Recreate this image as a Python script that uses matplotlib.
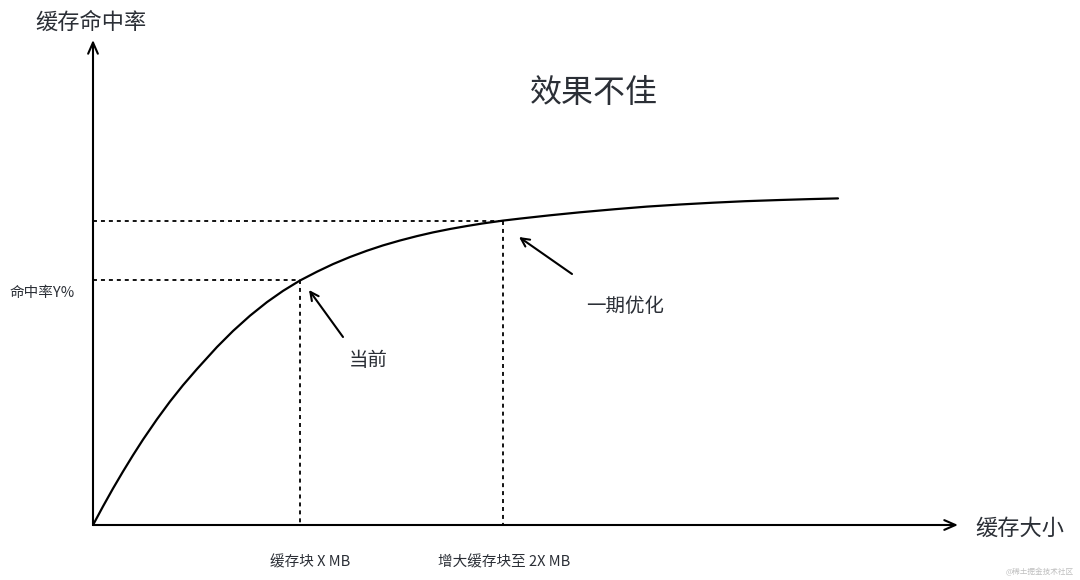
import matplotlib
matplotlib.use("Agg")
import matplotlib.pyplot as plt

plt.rcParams['font.family'] = ['Noto Sans CJK SC', 'DejaVu Sans']

# Curve (cache size -> hit rate), read in the picture's pixel frame
curve_x = [93, 103, 113, 123, 133, 143, 157, 170, 183, 197, 217, 233,
           250, 267, 283, 300, 317, 333, 350, 367, 383, 400, 417, 433, 450,
           467, 483, 503, 520, 550, 580, 615, 647, 680, 713, 745, 780, 810, 838]
curve_y = [525, 506.4, 488.5, 471.5, 455.2, 439.6, 419.2, 401.5, 385.2, 369,
           347, 331, 315.7, 302.1, 290.9, 280.5, 271.7, 264.1, 257, 250.7,
           245.4, 240.5, 236.1, 232.4, 229, 226, 223.4, 220.6, 218.6, 215.3,
           212.3, 209.2, 206.6, 204.5, 202.7, 201.2, 200, 199.1, 198.4]

origin = (93, 525)
x_axis_end = 958
y_axis_end = 40

current_pt = (300, 280)
optim_pt = (503, 221)

y_title = "缓存命中率"
x_title = "缓存大小"
chart_title = "效果不佳"
y_tick = "命中率Y%"
x_ticks = ["缓存块 X MB", "增大缓存块至 2X MB"]
x_tick_pos = [310, 504]
ann_labels = ["当前", "一期优化"]
watermark = "@稀土掘金技术社区"

fig = plt.figure(figsize=(10.8, 5.8), dpi=100)
ax = fig.add_axes([0, 0, 1, 1])
ax.set_xlim(0, 1080)
ax.set_ylim(580, 0)
ax.axis('off')

txt = '#2b2f36'
lw = 1.5

# axes with arrows
ax.annotate('', xy=(origin[0], y_axis_end), xytext=origin,
            arrowprops=dict(arrowstyle='->,head_length=0.8,head_width=0.35', lw=lw, color='black', shrinkA=0, shrinkB=0))
ax.annotate('', xy=(x_axis_end, origin[1]), xytext=origin,
            arrowprops=dict(arrowstyle='->,head_length=0.8,head_width=0.35', lw=lw, color='black', shrinkA=0, shrinkB=0))

# curve
ax.plot(curve_x, curve_y, color='black', lw=1.6, solid_capstyle='round', solid_joinstyle='round')

# dashed guides
ds = (0, (2.2, 2.2))
for (px, py) in [current_pt, optim_pt]:
    ax.plot([origin[0], px], [py, py], color='black', lw=1.3, linestyle=ds)
    ax.plot([px, px], [py, origin[1]], color='black', lw=1.3, linestyle=ds)

# annotation arrows
ax.annotate('', xy=(309, 290), xytext=(343, 337),
            arrowprops=dict(arrowstyle='->,head_length=0.6,head_width=0.3', lw=1.5, color='black', shrinkA=0, shrinkB=0))
ax.annotate('', xy=(519, 237), xytext=(572, 274),
            arrowprops=dict(arrowstyle='->,head_length=0.6,head_width=0.3', lw=1.5, color='black', shrinkA=0, shrinkB=0))

# texts
ax.text(91, 22, y_title, fontsize=16, color=txt, ha='center', va='center')
ax.text(1020, 528, x_title, fontsize=16, color=txt, ha='center', va='center')
ax.text(594, 93, chart_title, fontsize=23, color=txt, ha='center', va='center')
ax.text(42, 293, y_tick, fontsize=10.5, color=txt, ha='center', va='center')
for lab, xp in zip(x_ticks, x_tick_pos):
    ax.text(xp, 562, lab, fontsize=10.5, color=txt, ha='center', va='center')
ax.text(368, 360, ann_labels[0], fontsize=14, color=txt, ha='center', va='center')
ax.text(625, 306, ann_labels[1], fontsize=14, color=txt, ha='center', va='center')
ax.text(1040, 572, watermark, fontsize=5.5, color='#bfbfbf', ha='center', va='center')

fig.savefig('out.png', dpi=100)
